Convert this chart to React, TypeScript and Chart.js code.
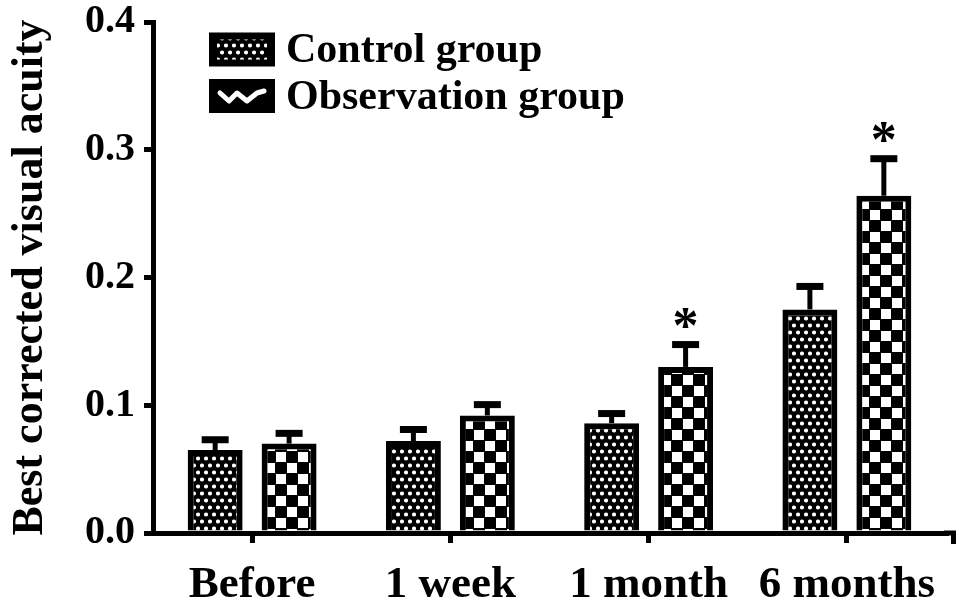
import React, { useEffect, useRef } from 'react';
import { Chart, registerables } from 'chart.js';

Chart.register(...registerables);

const categories = ['Before', '1 week', '1 month', '6 months'];
const seriesLabels = ['Control group', 'Observation group'];
const controlValues = [0.065, 0.072, 0.086, 0.175];
const controlErrors = [0.008, 0.009, 0.0075, 0.018];
const observationValues = [0.07, 0.092, 0.13, 0.264];
const observationErrors = [0.008, 0.0085, 0.0175, 0.029];
const observationSignificant = [false, false, true, true];
const controlSignificant = [false, false, false, false];
const yTickValues = [0, 0.1, 0.2, 0.3, 0.4];

const FONT = '"Liberation Serif", "Times New Roman", serif';

function makeControlPattern(): CanvasPattern | string {
  const c = document.createElement('canvas');
  c.width = 8;
  c.height = 14;
  const g = c.getContext('2d');
  if (!g) return '#000';
  g.fillStyle = '#000';
  g.fillRect(0, 0, 8, 14);
  g.fillStyle = '#fff';
  g.beginPath();
  g.arc(2, 3.5, 2.1, 0, Math.PI * 2);
  g.fill();
  g.beginPath();
  g.arc(6, 10.5, 2.1, 0, Math.PI * 2);
  g.fill();
  return g.createPattern(c, 'repeat') || '#000';
}

function makeObservationPattern(): CanvasPattern | string {
  const c = document.createElement('canvas');
  c.width = 22;
  c.height = 22;
  const g = c.getContext('2d');
  if (!g) return '#000';
  g.fillStyle = '#000';
  g.fillRect(0, 0, 22, 22);
  g.fillStyle = '#fff';
  g.fillRect(1, 1, 10, 10);
  g.fillRect(12, 12, 10, 10);
  return g.createPattern(c, 'repeat') || '#000';
}

const errorBarPlugin = {
  id: 'errorBars',
  afterDatasetsDraw(chart: any) {
    const ctx = chart.ctx;
    const yScale = chart.scales.y;
    chart.data.datasets.forEach((ds: any, di: number) => {
      const meta = chart.getDatasetMeta(di);
      meta.data.forEach((bar: any, i: number) => {
        const v = ds.data[i];
        const err = ds.errors[i];
        const yTop = yScale.getPixelForValue(v + err);
        ctx.save();
        ctx.strokeStyle = '#000';
        ctx.lineWidth = 5;
        ctx.beginPath();
        ctx.moveTo(bar.x, bar.y);
        ctx.lineTo(bar.x, yTop);
        ctx.stroke();
        ctx.lineWidth = 7;
        ctx.beginPath();
        ctx.moveTo(bar.x - 13.5, yTop);
        ctx.lineTo(bar.x + 13.5, yTop);
        ctx.stroke();
        if (ds.significant[i]) {
          ctx.fillStyle = '#000';
          ctx.font = `bold 52px ${FONT}`;
          ctx.textAlign = 'center';
          ctx.textBaseline = 'alphabetic';
          ctx.fillText('*', bar.x, yTop - 2);
        }
        ctx.restore();
      });
    });
  },
};

const legendPlugin = {
  id: 'customLegend',
  afterDraw(chart: any) {
    const ctx = chart.ctx;
    const x0 = 209;
    const rows = [49.5, 96];
    chart.data.datasets.forEach((ds: any, di: number) => {
      const cy = rows[di];
      ctx.save();
      ctx.fillStyle = '#000';
      ctx.fillRect(x0, cy - 17, 66, 34);
      if (di === 0) {
        ctx.fillStyle = ds.backgroundColor;
        ctx.fillRect(x0 + 8, cy - 10, 50, 20);
      } else {
        ctx.strokeStyle = '#fff';
        ctx.lineWidth = 5;
        ctx.lineJoin = 'round';
        ctx.lineCap = 'round';
        ctx.beginPath();
        ctx.moveTo(x0 + 11, cy - 3);
        ctx.lineTo(x0 + 20, cy + 5);
        ctx.lineTo(x0 + 28, cy - 3);
        ctx.lineTo(x0 + 38, cy + 5);
        ctx.lineTo(x0 + 48, cy - 3);
        ctx.lineTo(x0 + 55, cy - 5);
        ctx.stroke();
      }
      ctx.fillStyle = '#000';
      ctx.font = `bold 42px ${FONT}`;
      ctx.textAlign = 'left';
      ctx.textBaseline = 'middle';
      ctx.fillText(ds.label, x0 + 77, cy + 2);
      ctx.restore();
    });
  },
};

const axisEndPlugin = {
  id: 'axisEnd',
  afterDraw(chart: any) {
    const ctx = chart.ctx;
    const area = chart.chartArea;
    const yPix = chart.scales.y.getPixelForValue(0);
    ctx.save();
    ctx.strokeStyle = '#000';
    ctx.lineWidth = 5;
    ctx.beginPath();
    ctx.moveTo(area.right - 2, yPix);
    ctx.lineTo(956, yPix);
    ctx.stroke();
    ctx.beginPath();
    ctx.moveTo(953.5, yPix);
    ctx.lineTo(953.5, yPix + 11);
    ctx.stroke();
    ctx.restore();
  },
};

export default function App() {
  const ref = useRef<HTMLCanvasElement | null>(null);

  useEffect(() => {
    document.body.style.margin = '0';
    const canvas = ref.current;
    if (!canvas) return;
    const controlPattern = makeControlPattern();
    const observationPattern = makeObservationPattern();
    const chart = new Chart(canvas, {
      type: 'bar',
      data: {
        labels: categories,
        datasets: [
          {
            label: seriesLabels[0],
            data: controlValues,
            errors: controlErrors,
            significant: controlSignificant,
            backgroundColor: controlPattern,
            borderColor: '#000',
            borderWidth: 6,
            borderSkipped: 'bottom',
            categoryPercentage: 0.746,
            barPercentage: 0.743,
          } as any,
          {
            label: seriesLabels[1],
            data: observationValues,
            errors: observationErrors,
            significant: observationSignificant,
            backgroundColor: observationPattern,
            borderColor: '#000',
            borderWidth: 6,
            borderSkipped: 'bottom',
            categoryPercentage: 0.746,
            barPercentage: 0.743,
          } as any,
        ],
      },
      options: {
        responsive: false,
        animation: false,
        layout: { padding: { left: 0, right: 23, top: 22, bottom: 0 } },
        plugins: {
          legend: { display: false },
          tooltip: { enabled: false },
        },
        scales: {
          x: {
            offset: true,
            grid: {
              display: true,
              offset: false,
              drawOnChartArea: false,
              drawTicks: true,
              tickLength: 10,
              lineWidth: 5,
              color: '#000',
            },
            border: { display: true, width: 5, color: '#000' },
            ticks: {
              color: '#000',
              padding: 15,
              font: { family: FONT, size: 45, weight: 'bold' },
              maxRotation: 0,
              autoSkip: false,
            },
            afterFit(scale: any) {
              scale.height = 76;
              scale.paddingLeft = 0;
              scale.paddingRight = 0;
            },
          },
          y: {
            min: 0,
            max: 0.4,
            afterBuildTicks(scale: any) {
              scale.ticks = yTickValues.map((v) => ({ value: v }));
            },
            grid: {
              display: true,
              drawOnChartArea: false,
              drawTicks: true,
              tickLength: 9,
              lineWidth: 5,
              color: '#000',
            },
            border: { display: true, width: 5, color: '#000' },
            ticks: {
              color: '#000',
              padding: 9,
              font: { family: FONT, size: 40, weight: 'bold' },
              callback: (v: any) => Number(v).toFixed(1),
            },
            title: {
              display: true,
              text: 'Best corrected visual acuity',
              color: '#000',
              font: { family: FONT, size: 44, weight: 'bold' },
              padding: { top: 4, bottom: 0 },
            },
            afterFit(scale: any) {
              scale.width = 153;
              scale.paddingTop = 0;
              scale.paddingBottom = 0;
            },
          },
        },
      },
      plugins: [errorBarPlugin, legendPlugin, axisEndPlugin],
    });
    return () => chart.destroy();
  }, []);

  return (
    <div style={{ width: 969, height: 609 }}>
      <canvas ref={ref} width={969} height={609} style={{ display: 'block' }} />
    </div>
  );
}
